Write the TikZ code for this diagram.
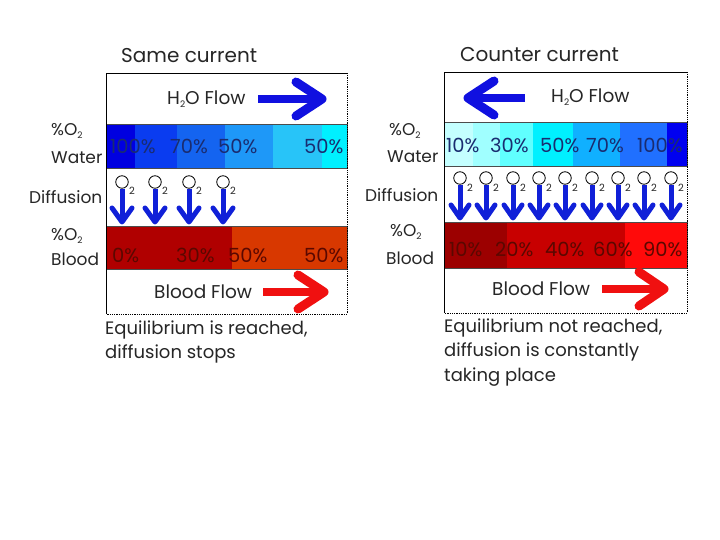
\documentclass[tikz,border=0pt]{standalone}
\usepackage{fontspec}
\setmainfont{Poppins}
\usetikzlibrary{calc}
\definecolor{wA}{HTML}{0000E0}
\definecolor{wB}{HTML}{0A3CF0}
\definecolor{wC}{HTML}{1464F0}
\definecolor{wD}{HTML}{1E98F8}
\definecolor{wE}{HTML}{28C4F8}
\definecolor{wF}{HTML}{00F0FF}
\definecolor{cA}{HTML}{C4FFFF}
\definecolor{cB}{HTML}{A0FFFF}
\definecolor{cC}{HTML}{60FFFF}
\definecolor{cD}{HTML}{00F0FF}
\definecolor{cE}{HTML}{10B0FF}
\definecolor{cF}{HTML}{2070FF}
\definecolor{cG}{HTML}{0000F0}
\definecolor{bA}{HTML}{B00000}
\definecolor{bB}{HTML}{D83800}
\definecolor{rA}{HTML}{9C0000}
\definecolor{rB}{HTML}{C80000}
\definecolor{rC}{HTML}{FF0A0A}
\definecolor{arrblue}{HTML}{1010E0}
\definecolor{arrred}{HTML}{F01010}
\definecolor{difblue}{HTML}{1020D8}
\definecolor{wtxt}{HTML}{1A2C70}
\definecolor{btxt}{HTML}{5A0800}
\newcommand\lsub[1]{\raisebox{-0.35ex}{\fontsize{9}{9}\selectfont #1}}
\begin{document}
\begin{tikzpicture}[x=1pt,y=-1pt,
  lbl/.style={font=\fontsize{17}{19}\selectfont, inner sep=0, anchor=west, text=black!85},
  ttl/.style={font=\fontsize{20}{22}\selectfont, inner sep=0, anchor=west, text=black!85},
  flw/.style={font=\fontsize{18.5}{20}\selectfont, inner sep=0, anchor=west, text=black!85},
  captxt/.style={font=\fontsize{18}{20}\selectfont, inner sep=0, anchor=west, text=black!85},
  pct/.style={font=\fontsize{19.5}{21}\selectfont, inner sep=0, anchor=west},
  bandline/.style={draw=black!70, line width=0.6pt},
  shaft/.style={line width=7.5pt},
  chev/.style={line width=9pt, line cap=round, line join=round},
  dshaft/.style={difblue, line width=5pt},
  dchev/.style={difblue, line width=5pt, line cap=round, line join=round},
  otwo/.style={circle, draw=black, fill=white, line width=0.8pt, minimum size=12.5pt, inner sep=0},
  two/.style={font=\fontsize{10}{10}\selectfont, inner sep=0, text=black!85}]
\useasboundingbox (0,0) rectangle (720,540);
\fill[white] (0,0) rectangle (720,540);

% ===== Left panel (same current) =====
\node[ttl] (tL) at (121,56) {Same current};
\fill[wA] (106,124) rectangle (135,168);
\fill[wB] (135,124) rectangle (177,168);
\fill[wC] (177,124) rectangle (225,168);
\fill[wD] (225,124) rectangle (273,168);
\fill[wE] (273,124) rectangle (322,168);
\fill[wF] (322,124) rectangle (347,168);
\draw[bandline] (106,124) rectangle (347,168);
\fill[bA] (106,226) rectangle (232,269);
\fill[bB] (232,226) rectangle (347,269);
\draw[bandline] (106,226) rectangle (347,269);
\draw[black, line width=0.8pt] (106,314) -- (106,73) -- (347,73);
\draw[black, line width=0.8pt, densely dotted] (347,73) -- (347,314) -- (106,314);

\node[flw] (hL) at (167,99) {H\lsub{2}O Flow};
\coordinate (hLs) at (258,99);
\coordinate (hLt) at (322,99);
\draw[shaft, arrblue] (hLs) -- ($(hLt)+(-4,0)$);
\draw[chev, arrblue] ($(hLt)+(-26,-17)$) -- (hLt) -- ($(hLt)+(-26,17)$);

\node[lbl] (oL1) at (51,131) {\%O\lsub{2}};
\node[lbl] (wL) at (51,158) {Water};
\node[pct, text=wtxt] (wL1) at (110,146) {100\%};
\node[pct, text=wtxt] (wL2) at (170,146) {70\%};
\node[pct, text=wtxt] (wL3) at (218,146) {50\%};
\node[pct, text=wtxt] (wL4) at (304,146) {50\%};

\node[lbl] (dL) at (29,197) {Diffusion};
\foreach \i/\x in {1/122,2/155,3/189,4/223}{
  \node[otwo] (cL\i) at (\x,182) {};
  \node[two] (sL\i) at (\x+10,191) {2};
  \coordinate (aL\i) at (\x,222);
  \draw[dshaft] (cL\i.south) -- ($(aL\i)+(0,-3)$);
  \draw[dchev] ($(aL\i)+(-10,-14)$) -- (aL\i) -- ($(aL\i)+(10,-14)$);
}

\node[lbl] (oL2) at (51,236) {\%O\lsub{2}};
\node[lbl] (bL) at (51,259) {Blood};
\node[pct, text=btxt] (bL1) at (112,255) {0\%};
\node[pct, text=btxt] (bL2) at (176,255) {30\%};
\node[pct, text=btxt] (bL3) at (228,255) {50\%};
\node[pct, text=btxt] (bL4) at (304,255) {50\%};

\node[flw] (fL) at (154,292) {Blood Flow};
\coordinate (rLs) at (263,292);
\coordinate (rLt) at (324,292);
\draw[shaft, arrred] (rLs) -- ($(rLt)+(-4,0)$);
\draw[chev, arrred] ($(rLt)+(-26,-17)$) -- (rLt) -- ($(rLt)+(-26,17)$);

\node[captxt] (eL1) at (105,330) {Equilibrium is reached,};
\node[captxt] (eL2) at (105,354) {diffusion stops};

% ===== Right panel (counter current) =====
\node[ttl] (tR) at (460,55) {Counter current};
\fill[cA] (444,122) rectangle (473,166);
\fill[cB] (473,122) rectangle (500,166);
\fill[cC] (500,122) rectangle (533,166);
\fill[cD] (533,122) rectangle (573,166);
\fill[cE] (573,122) rectangle (620,166);
\fill[cF] (620,122) rectangle (667,166);
\fill[cG] (667,122) rectangle (687,166);
\draw[bandline] (444,122) rectangle (687,166);
\fill[rA] (444,222) rectangle (507,268);
\fill[rB] (507,222) rectangle (625,268);
\fill[rC] (625,222) rectangle (687,268);
\draw[bandline] (444,222) rectangle (687,268);
\draw[black, line width=0.8pt] (444,313) -- (444,72) -- (687,72);
\draw[black, line width=0.8pt, densely dotted] (687,72) -- (687,313) -- (444,313);

\node[flw] (hR) at (551,97) {H\lsub{2}O Flow};
\coordinate (hRs) at (525,98);
\coordinate (hRt) at (468,98);
\draw[shaft, arrblue] (hRs) -- ($(hRt)+(4,0)$);
\draw[chev, arrblue] ($(hRt)+(26,-17)$) -- (hRt) -- ($(hRt)+(26,17)$);

\node[lbl] (oR1) at (389,131) {\%O\lsub{2}};
\node[lbl] (wR) at (387,157) {Water};
\node[pct, text=wtxt] (wR1) at (446,145) {10\%};
\node[pct, text=wtxt] (wR2) at (490,145) {30\%};
\node[pct, text=wtxt] (wR3) at (540,145) {50\%};
\node[pct, text=wtxt] (wR4) at (586,145) {70\%};
\node[pct, text=wtxt] (wR5) at (637,145) {100\%};

\node[lbl] (dR) at (365,195) {Diffusion};
\foreach \i/\x in {1/460,2/486,3/513,4/539,5/565,6/592,7/618,8/644,9/671}{
  \node[otwo] (cR\i) at (\x,178) {};
  \node[two] (sR\i) at (\x+10,188) {2};
  \coordinate (aR\i) at (\x,218);
  \draw[dshaft] (cR\i.south) -- ($(aR\i)+(0,-3)$);
  \draw[dchev] ($(aR\i)+(-9,-13)$) -- (aR\i) -- ($(aR\i)+(9,-13)$);
}

\node[lbl] (oR2) at (390,232) {\%O\lsub{2}};
\node[lbl] (bR) at (386,258) {Blood};
\node[pct, text=btxt] (bR1) at (449,249) {10\%};
\node[pct, text=btxt] (bR2) at (495,249) {20\%};
\node[pct, text=btxt] (bR3) at (545,249) {40\%};
\node[pct, text=btxt] (bR4) at (593,249) {60\%};
\node[pct, text=btxt] (bR5) at (643,249) {90\%};

\node[flw] (fR) at (492,289) {Blood Flow};
\coordinate (rRs) at (602,289);
\coordinate (rRt) at (664,289);
\draw[shaft, arrred] (rRs) -- ($(rRt)+(-4,0)$);
\draw[chev, arrred] ($(rRt)+(-25,-17)$) -- (rRt) -- ($(rRt)+(-25,17)$);

\node[captxt] (eR1) at (444,328) {Equilibrium not reached,};
\node[captxt] (eR2) at (444,352) {diffusion is constantly};
\node[captxt] (eR3) at (444,377) {taking place};
\end{tikzpicture}
\end{document}
